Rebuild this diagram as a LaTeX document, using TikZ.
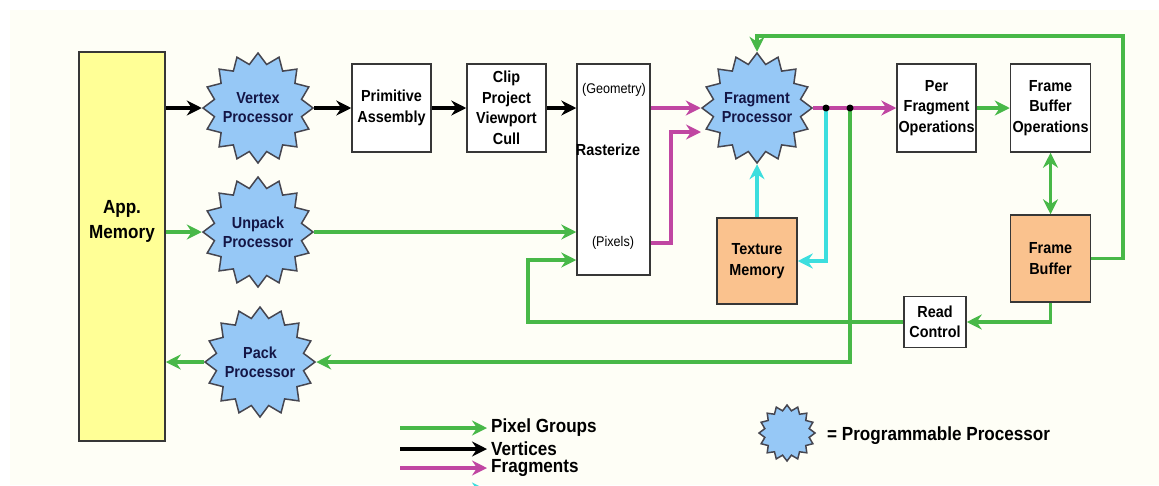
\documentclass[tikz,border=0pt]{standalone}
\usepackage{fontspec}
\setmainfont{Liberation Sans}[FakeStretch=0.9]
\usetikzlibrary{shapes.geometric,arrows.meta,calc}

\definecolor{pixgreen}{RGB}{72,184,72}
\definecolor{fragmag}{RGB}{192,70,162}
\definecolor{texcyan}{RGB}{60,222,222}
\definecolor{starblue}{RGB}{150,200,246}
\definecolor{starline}{RGB}{70,70,80}
\definecolor{navytext}{RGB}{20,22,70}
\definecolor{boxline}{RGB}{55,55,55}
\definecolor{memyellow}{RGB}{255,255,150}
\definecolor{peach}{RGB}{250,194,142}
\definecolor{cream}{RGB}{254,254,246}

\begin{document}
\begin{tikzpicture}[x=1pt,y=-1pt,
  >={Stealth[length=15pt,width=15pt,inset=5pt]},
  wh/.style 2 args={minimum width=#1pt,minimum height=#2pt},
  boxtext/.style={font=\bfseries\fontsize{16}{20.5}\selectfont,align=center},
  stagebox/.style={boxtext,draw=boxline,line width=1.5pt,fill=white,inner sep=0pt},
  membox/.style={stagebox,fill=peach},
  starshape/.style={star,star points=16,star point ratio=1.24,minimum size=#1,
    inner sep=0pt,draw=starline,line width=1.5pt,fill=starblue},
  proctext/.style={font=\bfseries\fontsize{16}{19}\selectfont,align=center,text=navytext},
  proc/.style={starshape=110pt,label={[proctext]center:#1}},
  pix/.style={->,draw=pixgreen,line width=3.5pt},
  vtx/.style={->,draw=black,line width=3.5pt},
  frag/.style={->,draw=fragmag,line width=3.8pt},
  tex/.style={->,draw=texcyan,line width=3.5pt},
  legtext/.style={anchor=west,inner sep=4pt,font=\bfseries\fontsize{19}{21}\selectfont}
]
\useasboundingbox (0,0) rectangle (1159,485);
\clip (0,0) rectangle (1159,485);
\fill[white] (0,0) rectangle (1159,485);
\fill[cream] (10,10) rectangle (1159,485);

% application memory
\node[stagebox,fill=memyellow,wh={86}{389}] (app) at (122,246.5) {};
\node[boxtext,font=\bfseries\fontsize{19}{25}\selectfont] (apptext) at (122,221) {App.\\Memory};

% programmable processors
\node[proc={Vertex\\Processor}] (vp) at (258,108) {};
\node[proc={Unpack\\Processor}] (up) at (258,232) {};
\node[proc={Pack\\Processor}] (pp) at (260,362) {};
\node[proc={Fragment\\Processor}] (fp) at (757,108) {};

% fixed-function stages
\node[stagebox,wh={79}{88}] (prim) at (391.5,108) {Primitive\\Assembly};
\node[stagebox,wh={79}{88}] (clip) at (506.5,108) {Clip\\Project\\Viewport\\Cull};
\node[stagebox,wh={73}{211}] (rast) at (613.5,169.5) {};
\node[font=\fontsize{14}{16}\selectfont,inner sep=0pt] (geom) at (614,90) {(Geometry)};
\node[boxtext,inner sep=0pt] (rastlabel) at (608,150) {Rasterize};
\node[font=\fontsize{14}{16}\selectfont,inner sep=0pt] (pixl) at (613,243) {(Pixels)};
\node[stagebox,wh={79}{88}] (perfrag) at (936.5,108) {Per\\Fragment\\Operations};
\node[stagebox,wh={80}{88}] (fbops) at (1050.5,108) {Frame\\Buffer\\Operations};
\node[membox,wh={80}{87}] (fb) at (1050.5,258.5) {Frame\\Buffer};
\node[membox,wh={80}{86}] (texmem) at (757,261) {Texture\\Memory};
\node[stagebox,wh={62}{51}] (read) at (935,322) {Read\\Control};

% branch points and bends
\coordinate (d1) at (826,108);
\coordinate (d2) at (850,108);
\coordinate (fpin) at (701,132);
\coordinate (looptop) at (1123,36);
\coordinate (rbend) at (528,260);

% vertex path
\draw[vtx] (app.east |- vp) -- (vp);
\draw[vtx] (vp) -- (prim);
\draw[vtx] (prim) -- (clip);
\draw[vtx] (clip.east) -- (clip.east -| rast.west);

% fragments
\draw[frag] (rast.east |- fp) -- (fp);
\draw[frag] (rast.east |- pixl) -- ++(20,0) |- (fpin);
\draw[frag] (fp) -- (perfrag);

% pixel groups
\draw[pix] (app.east |- up) -- (up);
\draw[pix] (up) -- (up -| rast.west);
\draw[pix] (d2) |- (pp);
\draw[pix] (pp) -- (pp -| app.east);
\draw[pix] (perfrag) -- (fbops);
\draw[pix,<->] (fbops.south) -- (fb.north);
\draw[pix] (fb.east) -| (looptop) -| (fp.north);
\draw[pix] (fb.south) |- (read.east);
\draw[pix] (read.west) -| (rbend) -- (rbend -| rast.west);

% textures
\draw[tex] (d1) |- (texmem.east);
\draw[tex] (texmem.north) -- (fp);

\fill (d1) circle (3.5);
\fill (d2) circle (3.5);

% legend
\coordinate (lgA) at (400,428);
\coordinate (lgB) at (400,449);
\coordinate (lgC) at (400,468);
\coordinate (lgD) at (400,490);
\node[legtext] (lgpix) at (487,428) {Pixel Groups};
\node[legtext] (lgvtx) at (487,449) {Vertices};
\node[legtext] (lgfrag) at (487,468) {Fragments};
\node[legtext] (lgtex) at (487,490) {};
\draw[pix] (lgA) -- (lgpix.west);
\draw[vtx] (lgB) -- (lgvtx.west);
\draw[frag] (lgC) -- (lgfrag.west);
\draw[tex] (lgD) -- (lgtex.west);

\node[starshape=56pt] (lgstar) at (787,433) {};
\node[legtext] (lgproc) at (823,436) {= Programmable Processor};
\end{tikzpicture}
\end{document}
